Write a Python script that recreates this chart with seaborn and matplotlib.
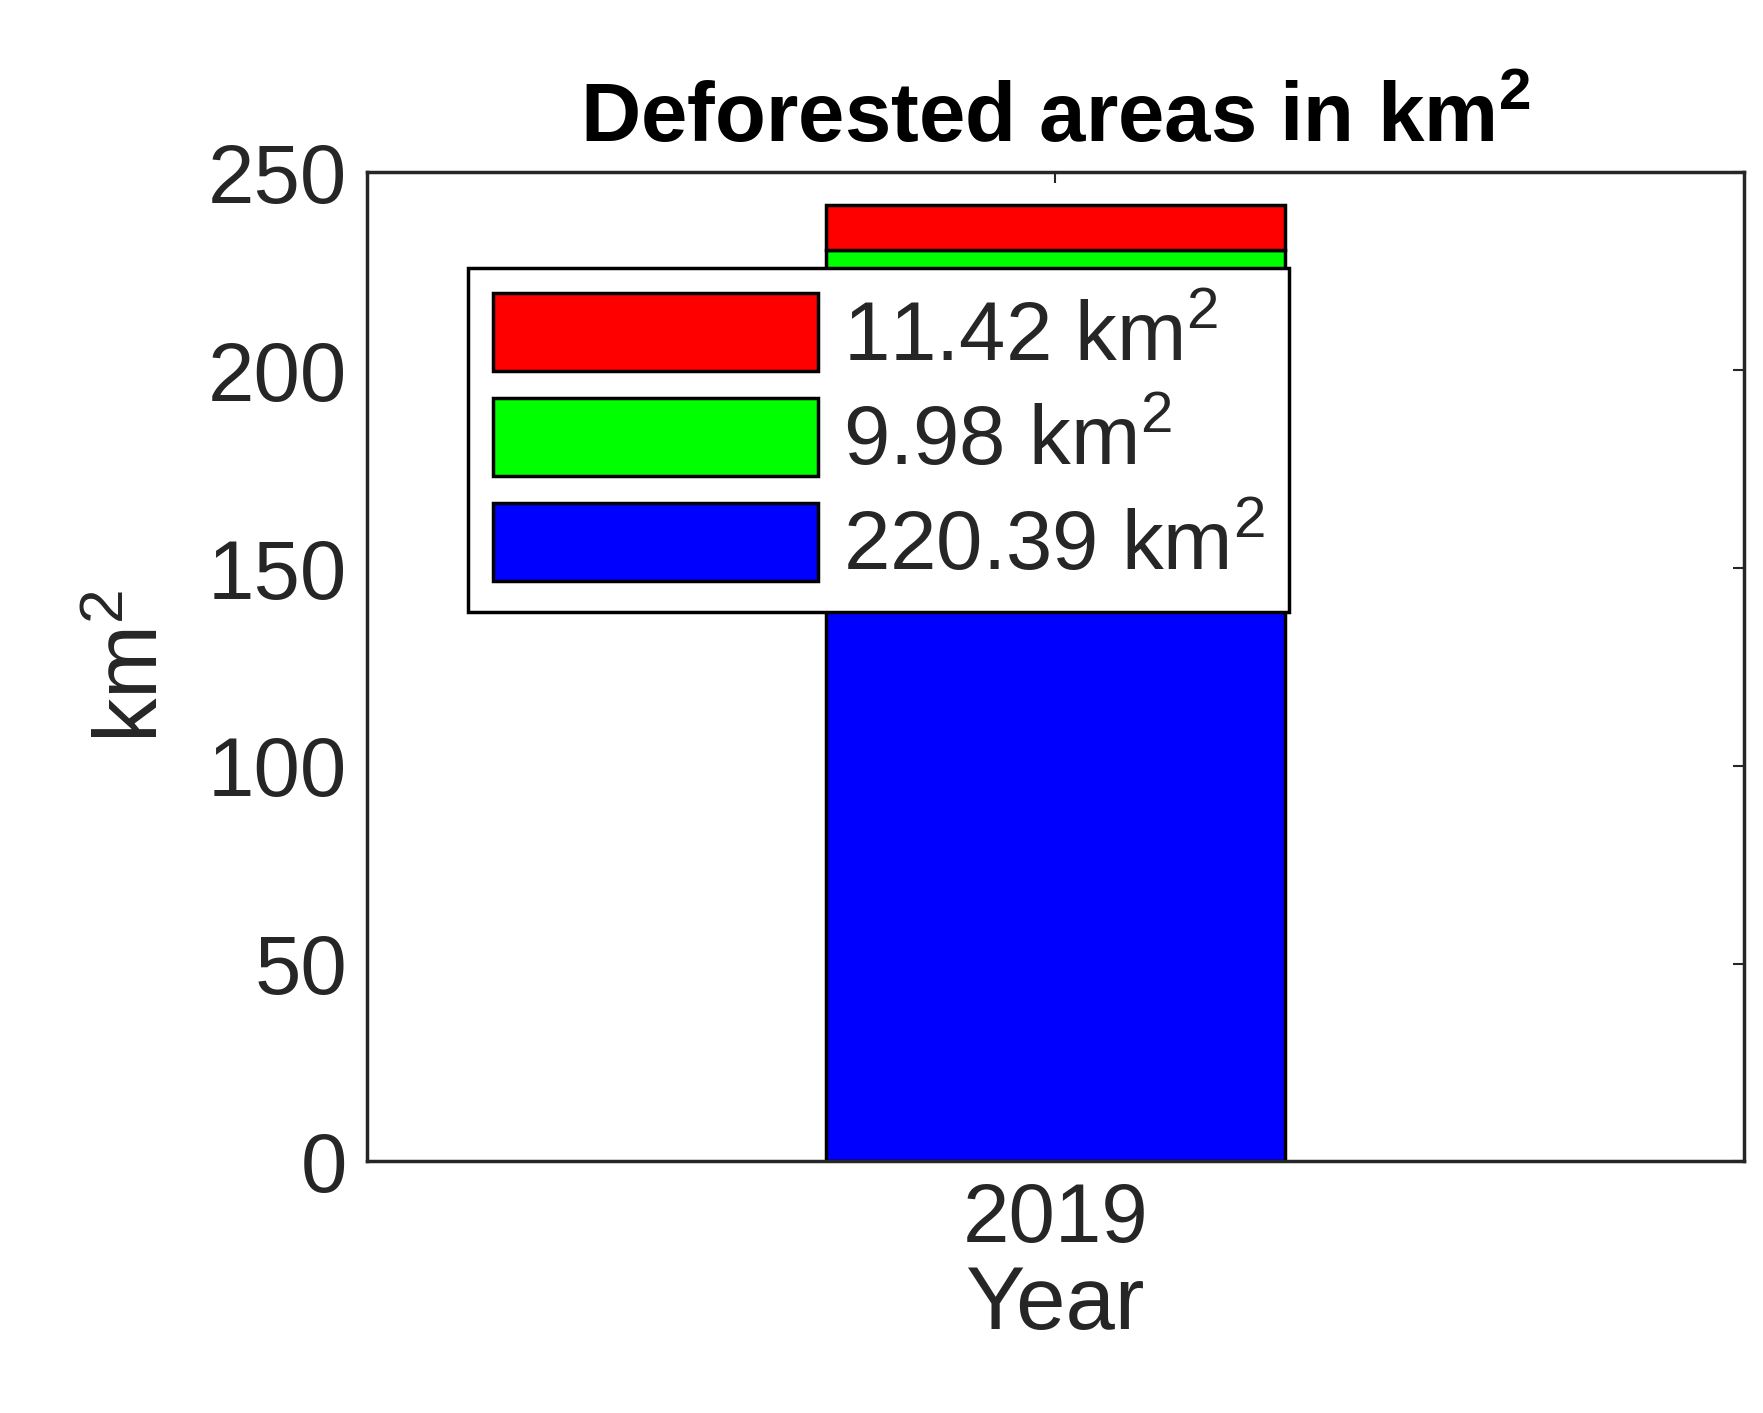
import matplotlib
matplotlib.use("Agg")
import matplotlib.pyplot as plt
import seaborn as sns
import pandas as pd

years = ["2019"]
blue_vals = [220.39]
green_vals = [9.98]
red_vals = [11.42]
labels = ["11.42 km$^2$", "9.98 km$^2$", "220.39 km$^2$"]

sns.set_style("white")
plt.rcParams['font.family'] = ['Liberation Sans', 'DejaVu Sans']
plt.rcParams['mathtext.fontset'] = 'custom'
plt.rcParams['mathtext.rm'] = 'Liberation Sans'
plt.rcParams['mathtext.bf'] = 'Liberation Sans:bold'

df = pd.DataFrame({"year": years, "blue": blue_vals, "green": green_vals, "red": red_vals})
df["gb"] = df["blue"] + df["green"]

fig = plt.figure(figsize=(17.63, 14.13), dpi=100)
ax = fig.add_axes([0.208, 0.178, 0.781, 0.7])

sns.barplot(data=df, x="year", y="blue", color="#0000ff", saturation=1, width=1,
            edgecolor="black", linewidth=2.5, ax=ax, label=labels[2])
sns.barplot(data=df, x="year", y="green", bottom=df["blue"], color="#00ff00", saturation=1,
            width=1, edgecolor="black", linewidth=2.5, ax=ax, label=labels[1])
sns.barplot(data=df, x="year", y="red", bottom=df["gb"], color="#ff0000", saturation=1,
            width=1, edgecolor="black", linewidth=2.5, ax=ax, label=labels[0])

ax.set_xlim(-1.5, 1.5)
ax.set_ylim(0, 250)
ax.set_yticks([0, 50, 100, 150, 200, 250])
ax.tick_params(axis="both", labelsize=60, colors="#262626", direction="in", length=8,
               top=True, right=True, width=1.5, pad=14)
for s in ax.spines.values():
    s.set_linewidth(2.5)
    s.set_color("#262626")
ax.set_xlabel("Year", fontsize=64, color="#262626", labelpad=4)
ax.set_ylabel("km$^2$", fontsize=64, color="#262626", labelpad=22)
ax.set_title("Deforested areas in km$^\\mathbf{2}$", fontsize=60, fontweight="bold",
             color="black", pad=22)

h, l = ax.get_legend_handles_labels()
leg = ax.legend(h[::-1], l[::-1], loc="upper left", bbox_to_anchor=(0.043, 0.945),
                fontsize=60, handlelength=3.9, handleheight=1.05, handletextpad=0.3,
                labelspacing=0.25, borderpad=0.3, fancybox=False, framealpha=1,
                edgecolor="black")
leg.get_frame().set_linewidth(2.5)

fig.savefig("out.png", dpi=100)
